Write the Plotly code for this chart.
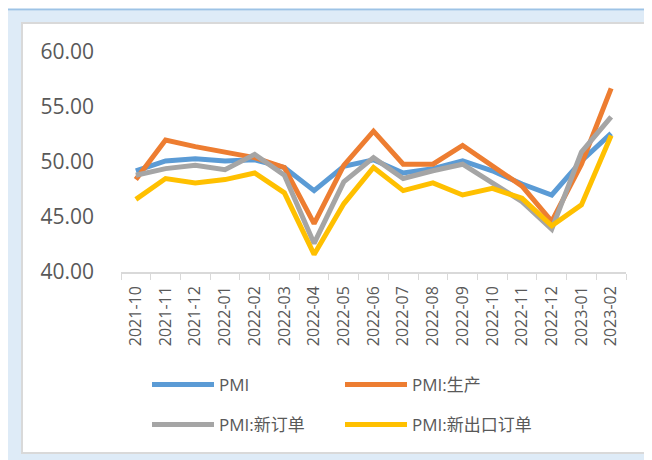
import plotly.graph_objects as go

months = ["2021-10", "2021-11", "2021-12", "2022-01", "2022-02", "2022-03", "2022-04",
          "2022-05", "2022-06", "2022-07", "2022-08", "2022-09", "2022-10", "2022-11",
          "2022-12", "2023-01", "2023-02"]
pmi = [49.2, 50.1, 50.3, 50.1, 50.2, 49.5, 47.4, 49.6, 50.2, 49.0, 49.4, 50.1, 49.2, 48.0, 47.0, 50.1, 52.6]
pmi_prod = [48.4, 52.0, 51.4, 50.9, 50.4, 49.5, 44.4, 49.7, 52.8, 49.8, 49.8, 51.5, 49.6, 47.8, 44.6, 49.8, 56.7]
pmi_new_orders = [48.8, 49.4, 49.7, 49.3, 50.7, 48.8, 42.6, 48.2, 50.4, 48.5, 49.2, 49.8, 48.1, 46.4, 43.9, 50.9, 54.1]
pmi_new_export = [46.6, 48.5, 48.1, 48.4, 49.0, 47.2, 41.6, 46.2, 49.5, 47.4, 48.1, 47.0, 47.6, 46.7, 44.2, 46.1, 52.4]

series = [
    ("PMI", pmi, "#5b9bd5", "legend"),
    ("PMI:生产", pmi_prod, "#ed7d31", "legend"),
    ("PMI:新订单", pmi_new_orders, "#a5a5a5", "legend2"),
    ("PMI:新出口订单", pmi_new_export, "#ffc000", "legend2"),
]

FONT = "Open Sans, Noto Sans CJK SC, sans-serif"
TXT = "#595959"

fig = go.Figure()
for name, vals, color, lg in series:
    fig.add_trace(go.Scatter(
        x=months, y=vals, name=name, mode="lines",
        line=dict(color=color, width=5),
        legend=lg,
    ))

# page body margin offset (8px) -> figure origin at screen (8, 8)
OFF = 8
W, H = 644, 452
# plot area in screen px: x 121..626, y 52..272
L = 121 - OFF
R = W - (626 - OFF)
T = 52 - OFF
B = H - (272 - OFF)
pw, ph = W - L - R, H - T - B

def fx(sx):
    return (sx - OFF - L) / pw

def fy(sy):
    return (H - B - (sy - OFF)) / ph

shapes = [
    dict(type="rect", xref="paper", yref="paper", x0=fx(8), x1=fx(700), y0=fy(500), y1=fy(10.5),
         fillcolor="#deebf7", line=dict(width=0), layer="below"),
    dict(type="line", xref="paper", yref="paper", x0=fx(8), x1=fx(700), y0=fy(9.5), y1=fy(9.5),
         line=dict(color="#9dc3e6", width=2), layer="below"),
    dict(type="rect", xref="paper", yref="paper", x0=fx(21), x1=fx(700), y0=fy(454), y1=fy(22),
         fillcolor="#d9d9d9", line=dict(width=0), layer="below"),
    dict(type="rect", xref="paper", yref="paper", x0=fx(23), x1=fx(700), y0=fy(452), y1=fy(24),
         fillcolor="#ffffff", line=dict(width=0), layer="below"),
]

leg_common = dict(
    orientation="h", xanchor="left", yanchor="middle",
    bgcolor="rgba(0,0,0,0)", font=dict(family=FONT, size=17, color=TXT),
    itemwidth=62, entrywidth=116, entrywidthmode="pixels",
)

fig.update_layout(
    width=W, height=H,
    margin=dict(l=L, r=R, t=T, b=B, autoexpand=False),
    paper_bgcolor="#ffffff",
    plot_bgcolor="rgba(0,0,0,0)",
    shapes=shapes,
    showlegend=True,
    legend=dict(x=fx(147), y=fy(385), **leg_common),
    legend2=dict(x=fx(147), y=fy(425), **leg_common),
    xaxis=dict(
        type="category", tickangle=-90, showgrid=False,
        showline=True, linecolor="#d9d9d9", linewidth=1.5,
        ticks="outside", tickson="boundaries", ticklen=6, tickcolor="#d9d9d9",
        tickfont=dict(family=FONT, size=16, color=TXT),
        ticklabelstandoff=6,
        range=[-0.5, len(months) - 0.5],
    ),
    yaxis=dict(
        range=[40, 60], dtick=5, tickformat=".2f", showgrid=False, zeroline=False,
        showline=False, ticks="",
        tickfont=dict(family=FONT, size=21, color=TXT),
        ticklabelstandoff=26,
    ),
)

fig.write_html("out.html")
